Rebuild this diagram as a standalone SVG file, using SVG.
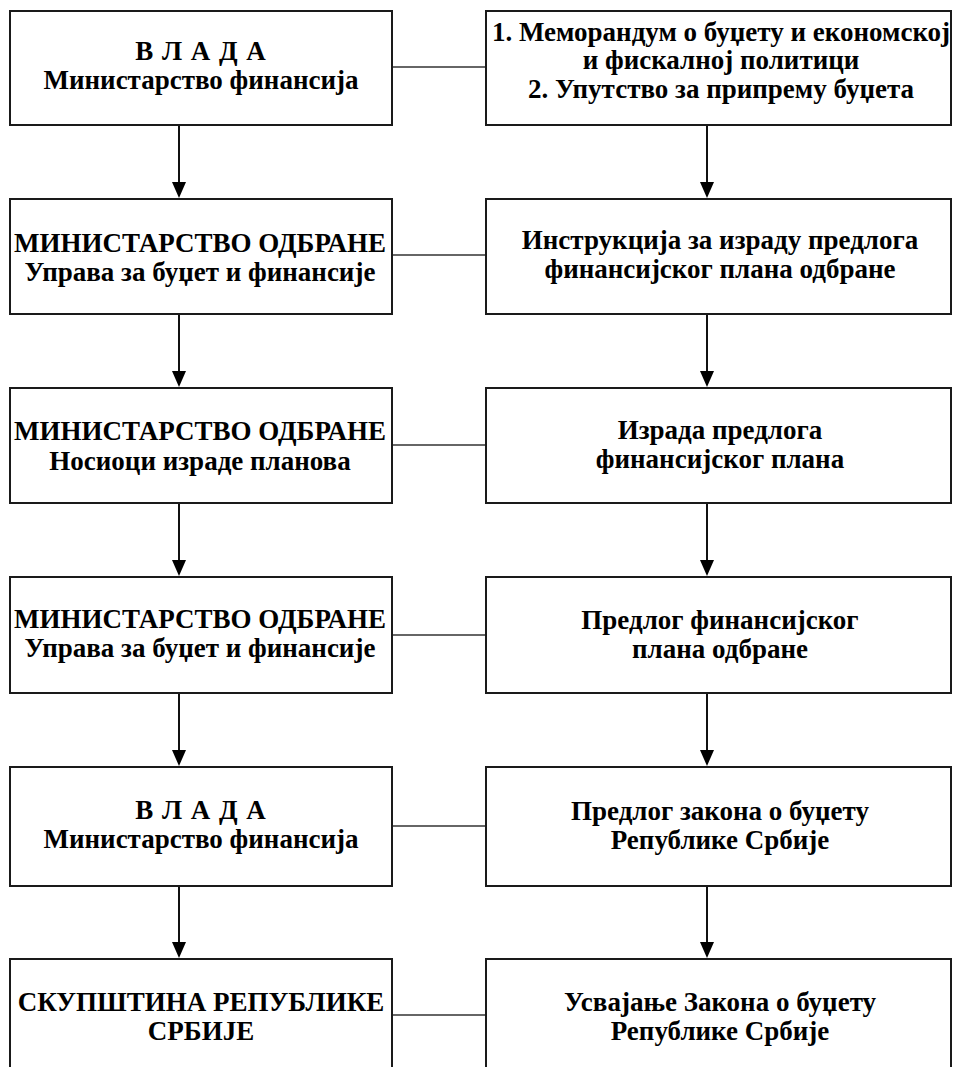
<svg xmlns="http://www.w3.org/2000/svg" width="953" height="1067" viewBox="0 0 953 1067">
<style>
.box{fill:#fff;stroke:#1a1a1a;stroke-width:2}
.t{font-family:"Liberation Serif","Times New Roman",serif;font-weight:bold;font-size:27px;fill:#000;text-anchor:middle}
.h{stroke:#333;stroke-width:1.5;fill:none}
.v{stroke:#111;stroke-width:2;fill:none}
.ah{fill:#000}
</style>
<rect width="953" height="1067" fill="#fff"/>
<g id="connectors">
<line class="h" x1="392" y1="67" x2="486" y2="67"/>
<line class="h" x1="392" y1="255" x2="486" y2="255"/>
<line class="h" x1="392" y1="445" x2="486" y2="445"/>
<line class="h" x1="392" y1="635" x2="486" y2="635"/>
<line class="h" x1="392" y1="826" x2="486" y2="826"/>
<line class="h" x1="392" y1="1015" x2="486" y2="1015"/>
<path class="v" d="M179,125 V182"/>
<path class="ah" d="M172,182 L186,182 L179,198 Z"/>
<path class="v" d="M179,314 V371"/>
<path class="ah" d="M172,371 L186,371 L179,387 Z"/>
<path class="v" d="M179,503 V560"/>
<path class="ah" d="M172,560 L186,560 L179,576 Z"/>
<path class="v" d="M179,693 V750"/>
<path class="ah" d="M172,750 L186,750 L179,766 Z"/>
<path class="v" d="M179,886 V942"/>
<path class="ah" d="M172,942 L186,942 L179,958 Z"/>
<path class="v" d="M707,125 V182"/>
<path class="ah" d="M700,182 L714,182 L707,198 Z"/>
<path class="v" d="M707,314 V371"/>
<path class="ah" d="M700,371 L714,371 L707,387 Z"/>
<path class="v" d="M707,503 V560"/>
<path class="ah" d="M700,560 L714,560 L707,576 Z"/>
<path class="v" d="M707,693 V750"/>
<path class="ah" d="M700,750 L714,750 L707,766 Z"/>
<path class="v" d="M707,886 V942"/>
<path class="ah" d="M700,942 L714,942 L707,958 Z"/>
</g>
<g id="l1"><rect class="box" x="10" y="11" width="382" height="114"/>
<text class="t" x="201" y="60" letter-spacing="1">В Л А Д А</text>
<text class="t" x="201" y="89">Министарство финансија</text></g>
<g id="r1"><rect class="box" x="486" y="11" width="465" height="114"/>
<text class="t" x="721" y="41">1. Меморандум о буџету и економској</text>
<text class="t" x="721" y="69">и фискалној политици</text>
<text class="t" x="721" y="98">2. Упутство за припрему буџета</text></g>
<g id="l2"><rect class="box" x="10" y="199" width="382" height="115"/>
<text class="t" x="200" y="252">МИНИСТАРСТВО ОДБРАНЕ</text>
<text class="t" x="200" y="281">Управа за буџет и финансије</text></g>
<g id="r2"><rect class="box" x="486" y="199" width="465" height="115"/>
<text class="t" x="720" y="249">Инструкција за израду предлога</text>
<text class="t" x="720" y="278">финансијског плана одбране</text></g>
<g id="l3"><rect class="box" x="10" y="388" width="382" height="115"/>
<text class="t" x="200" y="440">МИНИСТАРСТВО ОДБРАНЕ</text>
<text class="t" x="200" y="470">Носиоци израде планова</text></g>
<g id="r3"><rect class="box" x="486" y="388" width="465" height="115"/>
<text class="t" x="720" y="439">Израда предлога</text>
<text class="t" x="720" y="468">финансијског плана</text></g>
<g id="l4"><rect class="box" x="10" y="577" width="382" height="116"/>
<text class="t" x="200" y="628">МИНИСТАРСТВО ОДБРАНЕ</text>
<text class="t" x="200" y="657">Управа за буџет и финансије</text></g>
<g id="r4"><rect class="box" x="486" y="577" width="465" height="116"/>
<text class="t" x="720" y="629">Предлог финансијског</text>
<text class="t" x="720" y="658">плана одбране</text></g>
<g id="l5"><rect class="box" x="10" y="767" width="382" height="119"/>
<text class="t" x="201" y="819" letter-spacing="1">В Л А Д А</text>
<text class="t" x="201" y="848">Министарство финансија</text></g>
<g id="r5"><rect class="box" x="486" y="767" width="465" height="119"/>
<text class="t" x="720" y="820">Предлог закона о буџету</text>
<text class="t" x="720" y="849">Републике Србије</text></g>
<g id="l6"><rect class="box" x="10" y="959" width="382" height="120"/>
<text class="t" x="201" y="1011">СКУПШТИНА РЕПУБЛИКЕ</text>
<text class="t" x="201" y="1040">СРБИЈЕ</text></g>
<g id="r6"><rect class="box" x="486" y="959" width="465" height="120"/>
<text class="t" x="720" y="1011">Усвајање Закона о буџету</text>
<text class="t" x="720" y="1040">Републике Србије</text></g>
</svg>
